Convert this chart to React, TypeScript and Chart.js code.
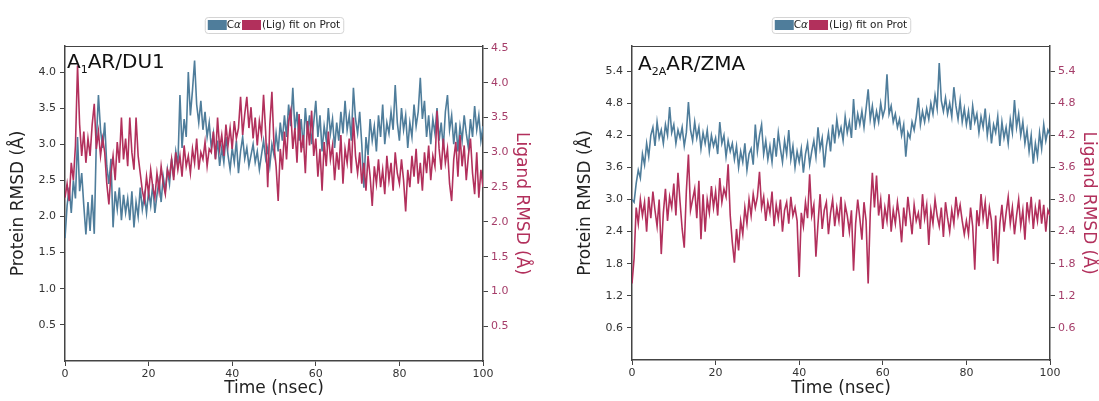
import React, { useEffect, useRef } from "react";
import { Chart, registerables } from "chart.js";

Chart.register(...registerables);

// ---------------- data ----------------
const TIME_STEP_NS = 0.5; // sampling interval of the trajectory samples below
const X_TICKS = [0, 20, 40, 60, 80, 100];

const SERIES_LABELS = ["C\u03b1", "(Lig) fit on Prot"];
const X_TITLE = "Time (nsec)";
const Y_TITLE = "Protein RMSD (\u00c5)";
const Y1_TITLE = "Ligand RMSD (\u00c5)";

// A1AR / DU1 — protein C-alpha RMSD (left axis)
const PROT_A1: number[] = [
  1.70, 2.15, 2.40, 2.05, 2.50, 2.25, 3.10, 2.35, 2.60, 2.15,
  1.75, 2.20, 1.80, 2.30, 1.76, 3.05, 3.68, 3.20, 2.95, 3.30,
  2.70, 2.45, 2.80, 1.85, 2.35, 2.10, 2.40, 1.95, 2.30, 2.05,
  2.25, 1.95, 2.35, 1.85, 2.20, 2.00, 2.40, 2.10, 2.30, 2.05,
  2.35, 2.15, 2.45, 2.05, 2.30, 2.50, 2.20, 2.55, 2.35, 2.65,
  2.45, 2.80, 2.55, 2.90, 2.70, 3.68, 2.95, 3.35, 3.10, 4.00,
  3.40, 3.75, 4.16, 3.55, 3.30, 3.60, 3.20, 3.45, 3.10, 3.30,
  2.95, 3.15, 2.80, 3.05, 2.70, 2.95, 2.75, 3.10, 2.85, 2.65,
  2.95, 2.75, 3.05, 2.60, 2.90, 3.10, 2.80, 2.95, 2.70, 2.85,
  3.00, 2.75, 2.90, 2.65, 2.85, 3.05, 2.80, 2.95, 2.70, 3.00,
  2.85, 3.15, 2.90, 3.30, 3.05, 3.40, 3.10, 3.55, 3.25, 3.78,
  3.20, 3.45, 3.05, 3.35, 2.95, 3.50, 3.15, 3.40, 3.00, 3.30,
  3.60, 3.10, 3.40, 2.90, 3.25, 3.05, 3.50, 3.15, 3.35, 2.95,
  3.30, 3.05, 3.45, 3.15, 3.60, 3.20, 3.40, 3.05, 3.78, 3.35,
  3.15, 3.45, 3.00, 2.40, 3.10, 2.85, 3.35, 3.05, 3.25, 2.90,
  3.40, 3.10, 3.55, 3.00, 3.30, 3.15, 3.45, 3.20, 3.82, 3.30,
  3.05, 3.50, 3.20, 3.40, 2.95, 3.30, 3.10, 3.55, 3.25, 3.45,
  3.92, 3.35, 3.60, 3.10, 3.40, 3.00, 3.35, 3.15, 3.50, 3.05,
  3.30, 2.95, 3.45, 3.68, 3.20, 3.40, 3.00, 3.30, 2.90, 3.25,
  3.05, 3.40, 3.15, 2.95, 3.35, 3.10, 3.53, 3.20, 3.40, 3.05,
  3.25,
];

// A1AR / DU1 — ligand RMSD fit on protein (right axis)
const LIG_A1: number[] = [
  2.35, 2.55, 2.30, 2.85, 2.60, 3.10, 4.25, 3.40, 2.95, 3.30,
  2.85, 3.20, 2.95, 3.40, 3.70, 3.05, 3.30, 2.95, 3.20, 3.00,
  2.55, 2.25, 2.70, 2.95, 2.60, 3.15, 2.85, 3.50, 2.90, 3.20,
  2.80, 3.50, 3.00, 2.75, 3.50, 2.95, 2.70, 2.45, 2.30, 2.65,
  2.40, 2.75, 2.50, 2.35, 2.70, 2.45, 2.80, 2.55, 2.40, 2.75,
  2.65, 2.90, 2.60, 3.00, 2.75, 2.95, 2.65, 3.10, 2.80, 2.95,
  2.70, 3.05, 2.85, 3.20, 2.75, 3.00, 2.90, 3.15, 2.80, 3.05,
  3.00, 3.30, 2.90, 3.50, 3.05, 3.25, 2.95, 3.40, 3.10, 3.35,
  3.05, 3.45, 3.20, 3.35, 3.80, 3.25, 3.55, 3.80, 3.35, 3.65,
  3.20, 3.50, 3.10, 3.45, 3.25, 3.83, 3.30, 2.50, 3.40, 3.87,
  3.10, 2.80, 2.30, 3.05, 2.75, 3.30, 2.90, 3.45, 3.60, 3.05,
  3.35, 2.85, 3.55, 3.00, 3.25, 2.70, 3.45, 3.10, 3.60, 2.95,
  3.20, 2.65, 3.05, 2.45, 3.15, 2.80, 3.30, 2.90, 3.10, 2.60,
  3.00, 2.75, 3.25, 2.55, 3.05, 2.85, 3.20, 2.70, 3.50, 2.95,
  2.70, 3.00, 2.55, 2.85, 2.45, 2.95, 2.65, 2.23, 2.80, 2.55,
  2.90, 2.50, 2.75, 2.40, 2.95, 2.60, 2.85, 2.45, 3.00, 2.70,
  2.55, 2.90, 2.60, 2.15, 2.75, 2.50, 2.95, 2.65, 3.05, 2.55,
  2.85, 2.45, 3.00, 2.70, 3.10, 2.60, 2.95, 2.80, 3.60, 3.05,
  2.75, 3.20, 2.85, 3.05, 2.55, 2.30, 2.90, 3.15, 2.65, 3.25,
  2.80, 3.10, 2.60, 2.95, 3.20, 2.70, 2.40, 3.00, 2.35, 2.75,
  2.50,
];

// A2AAR / ZMA — protein C-alpha RMSD (left axis)
const PROT_A2A: number[] = [
  3.00, 2.95, 3.30, 3.55, 3.40, 3.85, 3.65, 4.05, 3.80, 4.20,
  4.35, 4.00, 4.45, 4.15, 4.30, 4.05, 4.40, 4.20, 4.73, 4.25,
  4.40, 4.05, 4.30, 4.15, 4.35, 4.00, 4.25, 4.82, 4.30, 4.10,
  4.45, 4.15, 4.35, 3.95, 4.25, 4.05, 4.30, 3.90, 4.20, 4.00,
  4.15, 3.85, 4.45, 4.05, 4.20, 3.80, 4.10, 3.90, 4.05, 3.75,
  4.00, 3.60, 3.90, 3.70, 4.05, 3.55, 3.85, 3.95, 3.65, 4.40,
  3.90, 4.20, 4.40, 3.85, 4.10, 3.75, 4.00, 3.70, 4.15, 3.80,
  4.25, 3.95, 3.70, 4.10, 3.85, 4.30, 3.75, 4.00, 3.60, 3.90,
  3.70, 3.95, 3.50, 3.85, 4.05, 3.65, 3.90, 4.10, 3.80, 4.35,
  3.95, 4.15, 3.60, 4.00, 4.25, 3.90, 4.40, 4.05, 4.50, 4.20,
  4.35, 4.10, 4.55, 4.25, 4.45, 4.15, 4.88, 4.30, 4.60, 4.40,
  4.65, 4.35, 4.70, 5.06, 4.50, 4.75, 4.40, 4.65, 4.45, 4.80,
  4.55, 4.70, 5.34, 4.60, 4.75, 4.45, 4.60, 4.35, 4.50, 4.20,
  4.40, 3.80, 4.25, 4.15, 4.45, 4.30, 4.55, 4.90, 4.40, 4.65,
  4.45, 4.70, 4.50, 4.80, 4.60, 4.95, 4.70, 5.55, 4.85, 4.65,
  4.90, 4.60, 4.80, 4.55, 5.10, 4.75, 4.50, 4.85, 4.45, 4.70,
  4.40, 4.65, 4.30, 4.75, 4.45, 4.60, 4.25, 4.55, 4.35, 4.70,
  4.20, 4.50, 4.05, 4.40, 4.25, 4.55, 4.00, 4.45, 4.15, 4.35,
  4.05, 4.50, 4.25, 4.86, 4.35, 4.60, 4.20, 4.45, 4.05, 4.30,
  3.90, 4.20, 3.67, 4.05, 3.80, 4.25, 3.95, 4.40, 4.10, 4.30,
  4.20,
];

// A2AAR / ZMA — ligand RMSD fit on protein (right axis)
const LIG_A2A: number[] = [
  1.43, 1.90, 2.85, 2.55, 3.00, 2.70, 2.95, 2.40, 3.05, 2.65,
  3.15, 2.80, 2.50, 3.00, 1.98, 2.75, 3.20, 2.60, 3.05, 2.85,
  3.30, 2.70, 3.50, 2.95, 2.45, 2.10, 3.15, 3.84, 2.80, 3.00,
  3.20, 2.65, 3.35, 2.26, 3.10, 2.40, 3.00, 2.75, 3.25, 2.85,
  3.15, 2.70, 3.40, 2.95, 3.20, 3.05, 3.66, 2.70, 2.20, 1.82,
  2.45, 2.05, 2.60, 2.35, 2.85, 2.55, 3.00, 2.70, 3.10, 2.85,
  3.05, 3.52, 2.85, 3.05, 2.60, 2.95, 2.75, 3.15, 2.50, 2.90,
  2.65, 3.00, 2.40, 2.80, 2.95, 2.55, 3.05, 2.70, 2.85, 2.60,
  1.55, 2.75, 2.50, 2.95, 2.65, 3.47, 2.70, 2.90, 1.93, 2.55,
  3.10, 2.45, 2.80, 2.95, 2.35, 2.75, 3.00, 2.50, 2.85, 2.60,
  3.05, 2.30, 2.90, 2.70, 2.40, 2.80, 1.67, 2.55, 3.00, 2.65,
  2.25, 2.95, 2.60, 1.43, 2.75, 3.50, 2.85, 3.45, 2.70, 3.00,
  2.45, 2.85, 2.60, 3.10, 2.40, 2.80, 2.55, 2.95, 2.65, 2.20,
  2.85, 2.50, 3.05, 2.70, 2.35, 2.90, 2.60, 2.75, 2.45, 3.10,
  2.65, 2.90, 2.15, 2.80, 2.55, 3.00, 2.70, 2.50, 2.85, 2.30,
  2.95, 2.65, 2.40, 2.80, 2.55, 3.05, 2.70, 2.90, 2.60, 2.35,
  2.60, 2.35, 2.85, 2.50, 1.69, 2.80, 2.50, 3.10, 2.65, 2.95,
  2.45, 2.85, 2.60, 1.85, 2.70, 1.80, 2.55, 2.90, 2.40, 2.75,
  3.05, 2.55, 2.85, 2.35, 2.70, 3.00, 2.50, 2.80, 2.25, 2.95,
  2.65, 3.05, 2.45, 2.85, 2.60, 3.00, 2.55, 2.90, 2.40, 2.80,
  2.70,
];

const PROT_TICKS_A1 = [0.5, 1.0, 1.5, 2.0, 2.5, 3.0, 3.5, 4.0];
const LIG_TICKS_A1 = [0.5, 1.0, 1.5, 2.0, 2.5, 3.0, 3.5, 4.0, 4.5];
const TICKS_A2A = [0.6, 1.2, 1.8, 2.4, 3.0, 3.6, 4.2, 4.8, 5.4];

// ---------------- styles ----------------
const FONT = '"DejaVu Sans", "Liberation Sans", sans-serif';
const BLUE = "#4f7d9b";
const RED = "#b2305c";
const RED_TICK = "#a53d69";
const AXIS = "#444";

type PanelCfg = {
  titleMain: string;
  titleSub: string;
  titleRest: string;
  prot: number[];
  lig: number[];
  protTicks: number[];
  ligTicks: number[];
  yMax: number;
  y1Max: number;
  width: number;
  leftW: number;
  rightW: number;
  bottomH: number;
  yTitlePad: number;
  y1TitlePad: number;
  titleDx: number;
  titleDy: number;
};

const LEFT_PANEL: PanelCfg = {
  titleMain: "A",
  titleSub: "1",
  titleRest: "AR/DU1",
  prot: PROT_A1,
  lig: LIG_A1,
  protTicks: PROT_TICKS_A1,
  ligTicks: LIG_TICKS_A1,
  yMax: 4.36,
  y1Max: 4.53,
  width: 549,
  leftW: 65,
  rightW: 66,
  bottomH: 40,
  yTitlePad: 8,
  y1TitlePad: 17,
  titleDx: 2,
  titleDy: 22,
};

const RIGHT_PANEL: PanelCfg = {
  titleMain: "A",
  titleSub: "2A",
  titleRest: "AR/ZMA",
  prot: PROT_A2A,
  lig: LIG_A2A,
  protTicks: TICKS_A2A,
  ligTicks: TICKS_A2A,
  yMax: 5.87,
  y1Max: 5.87,
  width: 550,
  leftW: 83,
  rightW: 49,
  bottomH: 41,
  yTitlePad: 26,
  y1TitlePad: 0,
  titleDx: 6,
  titleDy: 24,
};

const decorPlugin = {
  id: "decor",
  afterDraw(chart: any, _args: any, opts: any) {
    const { ctx, chartArea: ca } = chart;
    ctx.save();
    // top frame line
    ctx.strokeStyle = AXIS;
    ctx.lineWidth = 1.2;
    ctx.beginPath();
    ctx.moveTo(ca.left, ca.top + 0.5);
    ctx.lineTo(ca.right, ca.top + 0.5);
    ctx.stroke();

    // panel label with subscript
    ctx.fillStyle = "#111";
    ctx.textBaseline = "alphabetic";
    ctx.textAlign = "left";
    let x = ca.left + opts.titleDx;
    const y = ca.top + opts.titleDy;
    ctx.font = `20px ${FONT}`;
    ctx.fillText(opts.titleMain, x, y);
    x += ctx.measureText(opts.titleMain).width;
    ctx.font = `11px ${FONT}`;
    ctx.fillText(opts.titleSub, x, y + 5);
    x += ctx.measureText(opts.titleSub).width;
    ctx.font = `20px ${FONT}`;
    ctx.fillText(opts.titleRest, x, y);

    // legend: [blue patch] Cα [red patch] (Lig) fit on Prot
    const fs = 10.5;
    const patchW = 19;
    const patchH = 10;
    ctx.font = `${fs}px ${FONT}`;
    const cPart = SERIES_LABELS[0].slice(0, 1);
    const aPart = SERIES_LABELS[0].slice(1);
    const wC = ctx.measureText(cPart).width;
    ctx.font = `italic ${fs}px ${FONT}`;
    const wA = ctx.measureText(aPart).width;
    ctx.font = `${fs}px ${FONT}`;
    const wT = ctx.measureText(SERIES_LABELS[1]).width;
    const pad = 3;
    const total = pad + patchW + wC + wA + 1 + patchW + 1 + wT + pad;
    const cx = (ca.left + ca.right) / 2;
    const cy = 25;
    const bx = cx - total / 2;
    const bh = 16;
    const by = cy - bh / 2;
    ctx.fillStyle = "#fff";
    ctx.strokeStyle = "#d4d4d4";
    ctx.lineWidth = 1;
    ctx.beginPath();
    ctx.roundRect(bx + 0.5, by + 0.5, total, bh, 3);
    ctx.fill();
    ctx.stroke();
    let lx = bx + pad;
    ctx.fillStyle = BLUE;
    ctx.fillRect(lx, cy - patchH / 2, patchW, patchH);
    lx += patchW;
    ctx.fillStyle = "#222";
    ctx.textBaseline = "middle";
    ctx.fillText(cPart, lx, cy);
    lx += wC;
    ctx.font = `italic ${fs}px ${FONT}`;
    ctx.fillText(aPart, lx, cy);
    lx += wA + 1;
    ctx.fillStyle = RED;
    ctx.fillRect(lx, cy - patchH / 2, patchW, patchH);
    lx += patchW + 1;
    ctx.fillStyle = "#222";
    ctx.font = `${fs}px ${FONT}`;
    ctx.fillText(SERIES_LABELS[1], lx, cy);
    ctx.restore();
  },
};

function Panel({ cfg }: { cfg: PanelCfg }) {
  const ref = useRef<HTMLCanvasElement | null>(null);
  useEffect(() => {
    if (!ref.current) return;
    const toPts = (arr: number[]) => arr.map((v, i) => ({ x: i * TIME_STEP_NS, y: v }));
    const tickFont = { family: FONT, size: 11 };
    const titleFont = { family: FONT, size: 17 };
    const chart = new Chart(ref.current, {
      type: "line",
      data: {
        datasets: [
          {
            label: SERIES_LABELS[0],
            data: toPts(cfg.prot),
            borderColor: BLUE,
            backgroundColor: BLUE,
            borderWidth: 1.6,
            pointRadius: 0,
            tension: 0,
            fill: false,
            yAxisID: "y",
            order: 2,
          },
          {
            label: SERIES_LABELS[1],
            data: toPts(cfg.lig),
            borderColor: RED,
            backgroundColor: RED,
            borderWidth: 1.6,
            pointRadius: 0,
            tension: 0,
            fill: false,
            yAxisID: "y1",
            order: 1,
          },
        ],
      },
      options: {
        responsive: false,
        animation: false,
        devicePixelRatio: 1,
        layout: { padding: { top: 46, left: 0, right: 0, bottom: 0 } },
        plugins: {
          legend: { display: false },
          tooltip: { enabled: false },
          decor: {
            titleMain: cfg.titleMain,
            titleSub: cfg.titleSub,
            titleRest: cfg.titleRest,
            titleDx: cfg.titleDx,
            titleDy: cfg.titleDy,
          },
        } as any,
        scales: {
          x: {
            type: "linear",
            min: 0,
            max: 100,
            afterBuildTicks: (s: any) => {
              s.ticks = X_TICKS.map((v) => ({ value: v }));
            },
            afterFit: (s: any) => {
              s.height = cfg.bottomH;
            },
            ticks: {
              font: tickFont,
              color: "#333",
              padding: 2,
              maxRotation: 0,
              autoSkip: false,
              callback: (v: any) => String(v),
            },
            grid: { drawOnChartArea: false, drawTicks: true, tickLength: 5, color: AXIS },
            border: { display: true, color: AXIS, width: 1.5 },
            title: {
              display: true,
              text: X_TITLE,
              font: titleFont,
              color: "#222",
              padding: { top: 0, bottom: 2 },
            },
          },
          y: {
            type: "linear",
            position: "left",
            min: 0,
            max: cfg.yMax,
            afterBuildTicks: (s: any) => {
              s.ticks = cfg.protTicks.map((v) => ({ value: v }));
            },
            afterFit: (s: any) => {
              s.width = cfg.leftW;
            },
            ticks: {
              font: tickFont,
              color: "#333",
              padding: 4,
              autoSkip: false,
              callback: (v: any) => Number(v).toFixed(1),
            },
            grid: { drawOnChartArea: false, drawTicks: true, tickLength: 5, color: AXIS },
            border: { display: true, color: AXIS, width: 1.5 },
            title: {
              display: true,
              text: Y_TITLE,
              font: titleFont,
              color: "#222",
              padding: { top: cfg.yTitlePad, bottom: 0 },
            },
          },
          y1: {
            type: "linear",
            position: "right",
            min: 0,
            max: cfg.y1Max,
            afterBuildTicks: (s: any) => {
              s.ticks = cfg.ligTicks.map((v) => ({ value: v }));
            },
            afterFit: (s: any) => {
              s.width = cfg.rightW;
            },
            ticks: {
              font: tickFont,
              color: RED_TICK,
              padding: 3,
              autoSkip: false,
              callback: (v: any) => Number(v).toFixed(1),
            },
            grid: { drawOnChartArea: false, drawTicks: true, tickLength: 5, color: AXIS },
            border: { display: true, color: AXIS, width: 1.5 },
            title: {
              display: true,
              text: Y1_TITLE,
              font: titleFont,
              color: RED,
              padding: { top: cfg.y1TitlePad, bottom: 0 },
            },
          },
        },
      } as any,
      plugins: [decorPlugin],
    });
    return () => chart.destroy();
  }, [cfg]);
  return (
    <canvas
      ref={ref}
      width={cfg.width}
      height={401}
      style={{ display: "block", width: cfg.width, height: 401 }}
    />
  );
}

export default function App() {
  return (
    <div
      style={{
        position: "absolute",
        left: 0,
        top: 0,
        width: 1099,
        height: 401,
        background: "#fff",
        display: "flex",
        overflow: "hidden",
      }}
    >
      <Panel cfg={LEFT_PANEL} />
      <Panel cfg={RIGHT_PANEL} />
    </div>
  );
}
